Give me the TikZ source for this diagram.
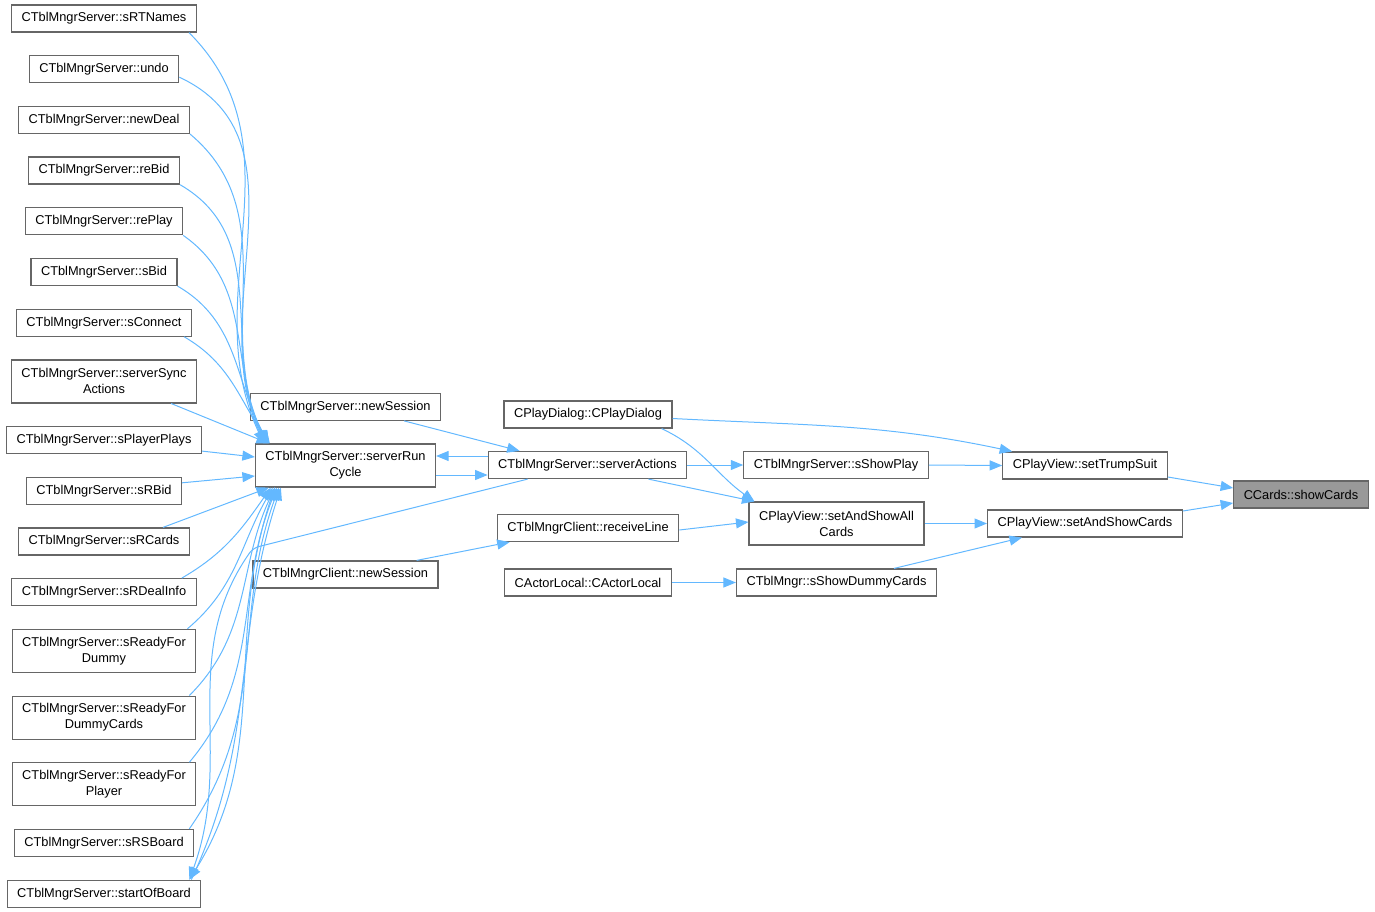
\documentclass[tikz,border=0pt]{standalone}
\usepackage{fontspec}
\setmainfont{Liberation Sans}
\usepackage{xcolor}
\usepackage{tikz}
\usetikzlibrary{positioning, arrows.meta}
\definecolor{callblue}{HTML}{63B8FF}
\definecolor{framegray}{HTML}{666666}
\tikzset{>={Triangle[length=12.5pt,width=10pt]},
         ->,
         node distance=22.5pt,
         fn/.style={draw=framegray, line width=1.2pt, fill=white, align=center,
                    font=\fontsize{12.8}{16}\selectfont, inner xsep=10pt, inner ysep=3pt,
                    minimum height=27pt},
         tall/.style={minimum height=43pt},
         target/.style={fill=black!40},
         call/.style={color=callblue, line width=1pt},
         }

\begin{document}
\begin{tikzpicture}[x=1pt, y=1pt]
    \useasboundingbox (0,0) rectangle (1375,-912);

    % callers of serverRunCycle, left column
    \node[fn] (sRTNames) at (104,-18.5) {CTblMngrServer::sRTNames};
    \node[fn, below=of sRTNames] (undo) {CTblMngrServer::undo};
    \node[fn, below=of undo] (newDeal) {CTblMngrServer::newDeal};
    \node[fn, below=of newDeal] (reBid) {CTblMngrServer::reBid};
    \node[fn, below=of reBid] (rePlay) {CTblMngrServer::rePlay};
    \node[fn, below=of rePlay] (sBid) {CTblMngrServer::sBid};
    \node[fn, below=of sBid] (sConnect) {CTblMngrServer::sConnect};
    \node[fn, tall, below=of sConnect] (serverSync) {CTblMngrServer::serverSync\\Actions};
    \node[fn, below=of serverSync] (sPlayerPlays) {CTblMngrServer::sPlayerPlays};
    \node[fn, below=of sPlayerPlays] (sRBid) {CTblMngrServer::sRBid};
    \node[fn, below=of sRBid] (sRCards) {CTblMngrServer::sRCards};
    \node[fn, below=of sRCards] (sRDealInfo) {CTblMngrServer::sRDealInfo};
    \node[fn, tall, below=of sRDealInfo] (readyDummy) {CTblMngrServer::sReadyFor\\Dummy};
    \node[fn, tall, below=of readyDummy] (readyDummyCards) {CTblMngrServer::sReadyFor\\DummyCards};
    \node[fn, tall, below=of readyDummyCards] (readyPlayer) {CTblMngrServer::sReadyFor\\Player};
    \node[fn, below=of readyPlayer] (sRSBoard) {CTblMngrServer::sRSBoard};
    \node[fn, below=of sRSBoard] (startOfBoard) {CTblMngrServer::startOfBoard};

    % middle
    \node[fn, tall] (runCycle) at (345.5,-465.5) {CTblMngrServer::serverRun\\Cycle};
    \node[fn, above=of runCycle] (srvSession) {CTblMngrServer::newSession};
    \node[fn] (cliSession) at (345.5,-574.5) {CTblMngrClient::newSession};
    \node[fn] (serverActions) at (587.5,-465) {CTblMngrServer::serverActions};
    \node[fn] (playDialog) at (588,-414.5) {CPlayDialog::CPlayDialog};
    \node[fn] (receiveLine) at (588,-528) {CTblMngrClient::receiveLine};
    \node[fn] (actorLocal) at (588,-582.5) {CActorLocal::CActorLocal};
    \node[fn] (sShowPlay) at (836,-465) {CTblMngrServer::sShowPlay};
    \node[fn, tall] (showAllCards) at (836.5,-523.5) {CPlayView::setAndShowAll\\Cards};
    \node[fn] (showDummy) at (836.5,-582.5) {CTblMngr::sShowDummyCards};
    \node[fn] (trumpSuit) at (1085,-465.5) {CPlayView::setTrumpSuit};
    \node[fn] (showCardsSet) at (1085,-523.5) {CPlayView::setAndShowCards};
    \node[fn, target] (showCards) at (1301,-494.5) {CCards::showCards};

    \coordinate (kink) at (253,-548);

    \path[call]
        ([xshift=-8pt]sRTNames.south east) edge[out=-45, in=115] ([xshift=9pt]runCycle.north west)
        ([yshift=-8pt]undo.east) edge[out=-25, in=115] ([xshift=10pt]runCycle.north west)
        (newDeal.south east) edge[out=-40, in=115] ([xshift=11pt]runCycle.north west)
        (reBid.south east) edge[out=-30, in=116] ([xshift=12pt]runCycle.north west)
        (rePlay.south east) edge[out=-35, in=117] ([xshift=13pt]runCycle.north west)
        (sBid.south east) edge[out=-30, in=119] ([xshift=14pt]runCycle.north west)
        ([xshift=-8pt]sConnect.south east) edge[out=-30, in=125] ([xshift=15pt]runCycle.north west)
        ([xshift=-26pt]serverSync.south east) edge ([xshift=14pt]runCycle.north west)
        ([yshift=-11pt]sPlayerPlays.east) edge ([yshift=8.5pt]runCycle.west)
        ([yshift=8pt]sRBid.east) edge ([yshift=-10.5pt]runCycle.west)
        ([xshift=-27pt]sRCards.north east) edge ([xshift=14pt]runCycle.south west)
        ([xshift=-15pt]sRDealInfo.north east) edge[out=30, in=-125] ([xshift=16pt]runCycle.south west)
        ([xshift=-9pt]readyDummy.north east) edge[out=40, in=-120] ([xshift=18pt]runCycle.south west)
        ([xshift=-7pt]readyDummyCards.north east) edge[out=45, in=-115] ([xshift=20pt]runCycle.south west)
        ([xshift=-7pt]readyPlayer.north east) edge[out=50, in=-112] ([xshift=22pt]runCycle.south west)
        ([xshift=-5pt]sRSBoard.north east) edge[out=55, in=-110] ([xshift=24pt]runCycle.south west)
        ([xshift=-10pt]startOfBoard.north east) edge[out=65, in=-108] ([xshift=26pt]runCycle.south west)
        ([xshift=20pt]runCycle.south west) edge[out=-110, in=58] ([xshift=-12pt]startOfBoard.north east)
        ([yshift=9pt]serverActions.west) edge ([yshift=9.5pt]runCycle.east)
        ([yshift=-9.5pt]runCycle.east) edge ([yshift=-10pt]serverActions.west)
        ([xshift=-37pt]srvSession.south east) edge ([xshift=32pt]serverActions.north west)
        ([xshift=-22pt]cliSession.north east) edge ([xshift=13pt]receiveLine.south west)
        (serverActions.east) edge (sShowPlay.west)
        ([xshift=-39pt]serverActions.south east) edge ([xshift=6pt]showAllCards.north west)
        ([xshift=-11pt]playDialog.south east) edge[out=-25, in=145] ([xshift=6pt]showAllCards.north west)
        ([yshift=-4pt]playDialog.east) edge[out=-3, in=168] ([xshift=10pt]trumpSuit.north west)
        (sShowPlay.east) edge (trumpSuit.west)
        ([yshift=-2pt]receiveLine.east) edge ([yshift=1.5pt]showAllCards.west)
        (actorLocal.east) edge (showDummy.west)
        (showAllCards.east) edge (showCardsSet.west)
        ([xshift=-43pt]showDummy.north east) edge ([xshift=35pt]showCardsSet.south west)
        ([yshift=-11.5pt]trumpSuit.east) edge ([yshift=6.5pt]showCards.west)
        ([yshift=12.5pt]showCardsSet.east) edge ([yshift=-8.5pt]showCards.west);

    \draw[call, rounded corners=6pt] ([xshift=40pt]serverActions.south west) -- (kink)
        to[out=-125, in=70] ([xshift=-12pt]startOfBoard.north east);
\end{tikzpicture}
\end{document}
